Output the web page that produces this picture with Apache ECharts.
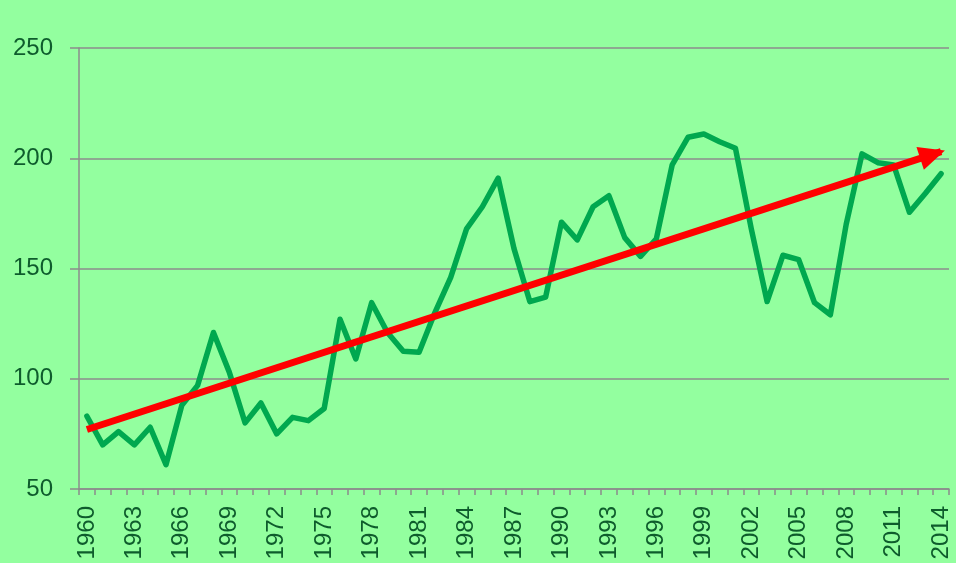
<!DOCTYPE html>
<html>
<head>
<meta charset="utf-8">
<script src="https://cdn.jsdelivr.net/npm/echarts@6/dist/echarts.min.js"></script>
<style>
    html, body { margin: 0; padding: 0; background: #93FF9F; }
    #chart { width: 956px; height: 563px; }
</style>
</head>
<body>
<div id="chart"></div>
<script>
// 年份
var years = [];
for (var y = 1960; y <= 2014; y++) {
    years.push(String(y));
}
// 每年的数值
var values = [
    83, 70, 76, 70, 78, 61, 88, 97, 121, 103,
    80, 89, 75, 82.5, 81, 86.5, 127, 109, 134.5, 121,
    112.5, 112, 130, 146, 168, 178, 191, 159, 135, 137,
    171, 163, 178, 183, 164, 155.5, 163.5, 197, 209.5, 211,
    207.5, 204.5, 168, 135, 156, 154, 134.5, 129, 170, 202,
    198, 197, 175.5, 184, 193
];
// 趋势线起点和终点
var trendYears = ["1960", "2014"];
var trendValues = [77, 203];
// 纵轴刻度
var yTicks = [50, 100, 150, 200, 250];

var textColor = "#0E5C2C";
var axisGray = "#8C8C8C";

var myChart = echarts.init(document.getElementById("chart"));
var option = {
    backgroundColor: "#93FF9F",
    animation: false,
    grid: {
        left: 79,
        right: 7,
        top: 48,
        bottom: 74
    },
    xAxis: {
        type: "category",
        data: years,
        boundaryGap: true,
        axisLine: { lineStyle: { color: axisGray, width: 1.5 } },
        axisTick: {
            show: true,
            interval: 0,
            length: 6,
            lineStyle: { color: axisGray, width: 1.5 }
        },
        axisLabel: {
            interval: 2,
            rotate: 90,
            margin: 17,
            color: textColor,
            fontFamily: "Liberation Sans",
            fontSize: 24
        }
    },
    yAxis: {
        type: "value",
        min: yTicks[0],
        max: yTicks[yTicks.length - 1],
        interval: 50,
        axisLine: { show: true, lineStyle: { color: axisGray, width: 1.5 } },
        axisTick: { show: true, length: 9, lineStyle: { color: axisGray, width: 1.5 } },
        splitLine: { lineStyle: { color: axisGray, width: 1.5 } },
        axisLabel: {
            margin: 26,
            color: textColor,
            fontFamily: "Liberation Sans",
            fontSize: 24
        }
    },
    series: [{
        type: "line",
        data: values,
        symbol: "none",
        lineStyle: { color: "#00A84F", width: 5.5, join: "round", cap: "round" },
        z: 2,
        markLine: {
            silent: true,
            animation: false,
            symbol: ["none", "triangle"],
            symbolSize: [24, 26],
            symbolOffset: [[0, 0], [0, 9]],
            label: { show: false },
            lineStyle: { color: "#FF0000", width: 7, type: "solid", cap: "butt" },
            data: [[
                { coord: [trendYears[0], trendValues[0]] },
                { coord: [trendYears[1], trendValues[1]] }
            ]]
        }
    }]
};
myChart.setOption(option);
</script>
</body>
</html>
